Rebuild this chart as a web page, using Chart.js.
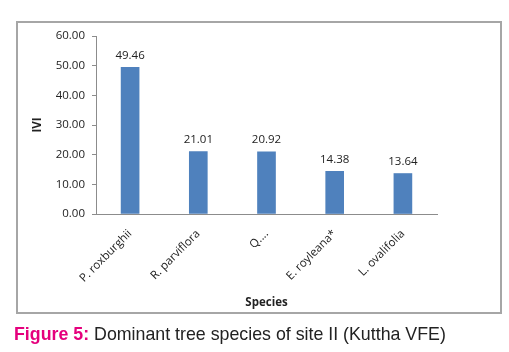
<!DOCTYPE html>
<html>
<head>
<meta charset="utf-8">
<script src="https://cdn.jsdelivr.net/npm/chart.js@4"></script>
<style>
    body { margin: 0; background: #fff; }
    #wrap { position: relative; width: 509px; height: 352px; }
    #marco { position: absolute; left: 16px; top: 21px; width: 482px; height: 289px; border: 2px solid #a6a6a6; }
    #grafico { position: absolute; left: 0; top: 0; }
    #legenda { position: absolute; left: 14px; top: 324px; font-family: "Liberation Sans", Arial, sans-serif; font-size: 17.8px; color: #222; white-space: nowrap; }
    #legenda b { color: #e5007d; font-weight: bold; }
</style>
</head>
<body>
<div id="wrap">
    <div id="marco"></div>
    <canvas id="grafico" width="509" height="352"></canvas>
    <div id="legenda"><b>Figure 5:</b> Dominant tree species of site II (Kuttha VFE)</div>
</div>
<script>
let especies = ['P. roxburghii', 'R. parviflora', 'Q....', 'E. royleana*', 'L. ovalifolia'];
let ivi = [49.46, 21.01, 20.92, 14.38, 13.64];
let ticksY = [0, 10, 20, 30, 40, 50, 60];

let fonte = "'Open Sans', 'DejaVu Sans', sans-serif";

// escreve o valor em cima de cada barra
let rotulosBarras = {
    id: 'rotulosBarras',
    afterDatasetsDraw: function (chart) {
        let ctx = chart.ctx;
        let meta = chart.getDatasetMeta(0);
        ctx.save();
        ctx.font = '11.5px ' + fonte;
        ctx.fillStyle = '#222';
        ctx.textAlign = 'center';
        ctx.textBaseline = 'bottom';
        for (let i = 0; i < meta.data.length; i++) {
            let barra = meta.data[i];
            ctx.fillText(ivi[i].toFixed(2), barra.x, barra.y - 6);
        }
        ctx.restore();
    }
};

let dados = {
    labels: especies,
    datasets: [{
        label: 'IVI',
        type: 'bar',
        data: ivi,
        backgroundColor: '#4f81bd',
        borderWidth: 0,
        barThickness: 18
    }]
};

let options = {
    responsive: false,
    animation: false,
    layout: { padding: { left: 17, right: 72, top: 36, bottom: 42 } },
    plugins: { legend: { display: false }, tooltip: { enabled: false } },
    scales: {
        x: {
            grid: { display: false },
            border: { display: true, color: '#8c8c8c', width: 1 },
            ticks: {
                font: { family: fonte, size: 11.5 },
                color: '#222',
                maxRotation: 45,
                minRotation: 45,
                autoSkip: false,
                padding: 5
            },
            title: {
                display: true,
                text: 'Species',
                font: { family: fonte, size: 11.5, weight: 'bold' },
                color: '#222',
                padding: { top: 0, bottom: 0 }
            },
            afterFit: function (scale) { scale.height = 96; }
        },
        y: {
            min: 0,
            max: 60,
            afterBuildTicks: function (scale) {
                scale.ticks = ticksY.map(function (v) { return { value: v }; });
            },
            grid: { display: true, drawOnChartArea: false, drawTicks: true, tickLength: 4, color: '#8c8c8c' },
            border: { display: true, color: '#8c8c8c', width: 1 },
            ticks: {
                font: { family: fonte, size: 11.5 },
                color: '#222',
                padding: 7,
                callback: function (v) { return Number(v).toFixed(2); }
            },
            title: {
                display: true,
                text: 'IVI',
                font: { family: fonte, size: 11.5, weight: 'bold' },
                color: '#222',
                padding: { top: 14, bottom: 0 }
            },
            afterFit: function (scale) { scale.width = 79; }
        }
    }
};

let config = {
    data: dados,
    options: options,
    plugins: [rotulosBarras]
};
let myChart = new Chart(document.getElementById('grafico'), config);
</script>
</body>
</html>
